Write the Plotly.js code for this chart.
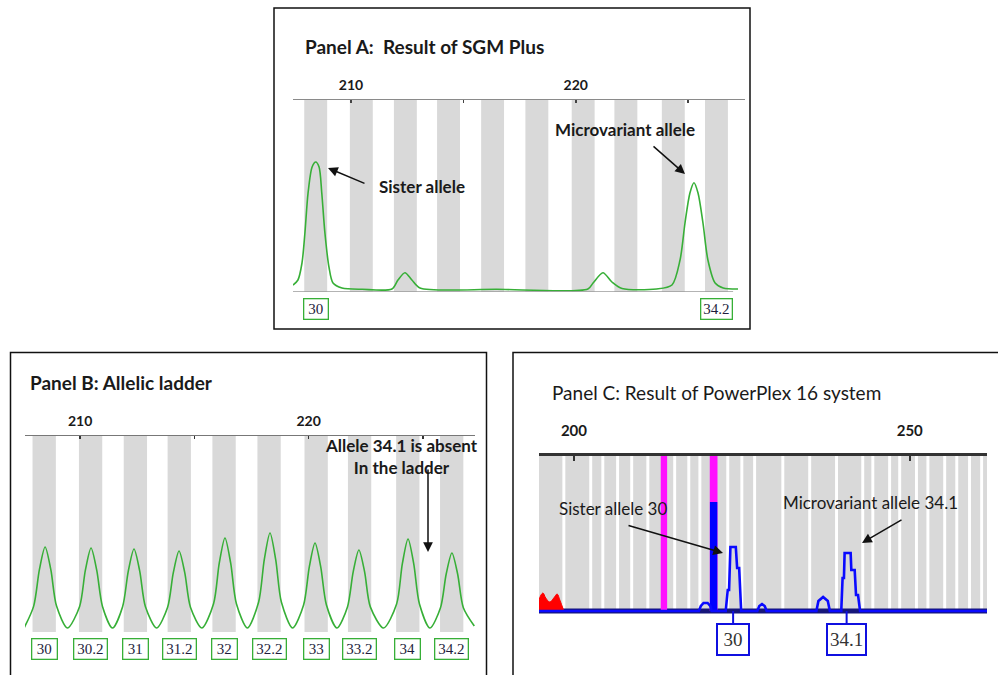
<!DOCTYPE html>
<html><head><meta charset="utf-8">
<script src="https://cdn.plot.ly/plotly-3.0.1.min.js"></script>
<style>html,body{margin:0;padding:0;background:#fff}#chart{width:998px;height:675px}</style>
</head><body><div id="chart"></div>
<script>
// ================= DATA =================
// Allele bins (bp) shared by panels A and B, with their allele names
const binCentersAB = [208.43, 210.46, 212.42, 214.34, 216.30, 218.27, 220.33, 222.23, 224.34, 226.26];
const binLabelsAB  = ['30','30.2','31','31.2','32','32.2','33','33.2','34','34.2'];
const ticksAB      = [210, 215, 220, 225];
const tickTextAB   = ['210', '', '220', ''];

// Panel A: SGM Plus electropherogram (green), size in bp vs signal
const panelA_bp  = [207.42,207.64,207.82,207.95,208.09,208.27,208.43,208.58,208.70,208.84,209.02,209.20,209.60,210.50,
                    211.82,212.09,212.40,212.71,213.07,216.50,220.54,220.77,221.21,221.61,222.06,223.60,
                    224.28,224.64,224.86,225.08,225.26,225.44,225.66,225.88,226.20,226.56,227.22];
const panelA_sig = [70,120,290,590,990,1250,1300,1250,990,590,250,90,40,27,
                    30,120,193,120,40,27,30,90,193,100,35,30,
                    70,320,690,990,1093,990,690,320,90,40,30];
const panelA_callNames = ['30', '34.2'];
const panelA_callPos   = [208.43, 226.26];

// Panel B: allelic ladder (green)
const panelB_bp  = [207.55,
  207.97,208.22,208.47,208.72,208.97,209.45,
  209.98,210.23,210.48,210.73,210.98,211.42,
  211.86,212.11,212.36,212.61,212.86,213.35,
  213.83,214.08,214.33,214.58,214.83,215.33,
  215.84,216.09,216.34,216.59,216.84,217.32,
  217.81,218.06,218.31,218.56,218.81,219.30,
  219.78,220.03,220.28,220.53,220.78,221.24,
  221.70,221.95,222.20,222.45,222.70,223.28,
  223.85,224.10,224.35,224.60,224.85,225.31,
  225.77,226.02,226.27,226.52,226.77,227.25];
const panelB_sig = [40,
  259,623,850,623,259,40,
  256,616,840,616,256,40,
  253,609,830,609,253,40,
  248,594,810,594,248,40,
  283,688,940,688,283,40,
  297,724,990,724,297,40,
  270,652,890,652,270,40,
  251,602,820,602,251,40,
  280,681,930,681,280,40,
  243,580,790,580,243,60];

// Panel C: PowerPlex 16 (blue dye trace, red dye trace)
const panelC_blue_bp  = [194.8,218.6,218.9,219.3,219.9,220.3,220.5,222.6,222.9,223.1,223.3,224.1,224.3,224.6,224.9,
                         227.3,227.6,228.0,228.4,228.7,236.1,236.4,237.1,237.8,238.1,
                         239.8,240.0,240.2,240.3,241.2,241.3,241.8,242.0,242.3,242.6,261.5];
const panelC_blue_sig = [0,0,50,80,80,50,0,0,210,210,640,640,430,430,0,
                         0,50,70,50,0,0,100,140,100,0,
                         0,330,330,580,580,410,410,160,160,0,0];
const panelC_red_bp  = [194.8,195.1,195.4,195.8,196.4,197.0,197.5,197.9,198.5];
const panelC_red_sig = [110,160,180,130,90,130,170,110,0];
const panelC_binGaps = [198.5,202.5,204.3,206.5,208.6,211.0,215.0,217.1,218.75,222.9,225.0,226.9,
                        231.1,235.1,239.1,243.0,244.5,247.0,248.5,251.0,252.7,255.2,257.0,258.9,260.7];
const panelC_magenta_bp  = [213.4, 220.8];
const panelC_magenta_sig = [1550, 1550];
const panelC_offscale_bp  = [220.8];
const panelC_offscale_sig = [1090];
const panelC_callNames = ['30', '34.1'];
const panelC_callPos   = [223.7, 240.6];
const ticksC    = [200, 250];
const tickTextC = ['200', '250'];

// ================= LAYOUT HELPERS =================
const W = 998, H = 675;
const px = x => x / W;
const py = y => 1 - y / H;
const SANS = 'Lato, "Open Sans", sans-serif';
const SERIF = '"Liberation Serif", "DejaVu Serif", serif';
const GREEN = 'rgb(55,175,55)';
const BAND = '#d9d9d9';

const yTopA = 1920, yTopB = 1960;

const traces = [
  {type:'bar', x: binCentersAB, y: binCentersAB.map(() => yTopA), width: 1.02,
   marker:{color: BAND}, xaxis:'x', yaxis:'y', hoverinfo:'skip'},
  {type:'scatter', mode:'lines', x: panelA_bp, y: panelA_sig, line:{color: GREEN, width:1.6, shape:'spline', smoothing:0.8},
   xaxis:'x', yaxis:'y', hoverinfo:'skip'},
  {type:'bar', x: binCentersAB, y: binCentersAB.map(() => yTopB), width: 1.02,
   marker:{color: BAND}, xaxis:'x2', yaxis:'y2', hoverinfo:'skip'},
  {type:'scatter', mode:'lines', x: panelB_bp, y: panelB_sig, line:{color: GREEN, width:1.6, shape:'spline', smoothing:0.8},
   xaxis:'x2', yaxis:'y2', hoverinfo:'skip'},
  {type:'bar', x: panelC_magenta_bp, y: panelC_magenta_sig, width: [0.95, 1.15],
   marker:{color:'#ff10ff'}, xaxis:'x3', yaxis:'y3', hoverinfo:'skip'},
  {type:'bar', x: panelC_offscale_bp, y: panelC_offscale_sig, width: [1.1],
   marker:{color:'#0000ff'}, xaxis:'x3', yaxis:'y3', hoverinfo:'skip'},
  {type:'scatter', mode:'lines', x: panelC_red_bp, y: panelC_red_sig, fill:'tozeroy', fillcolor:'#ff0000',
   line:{color:'#ff0000', width:1, shape:'spline'}, xaxis:'x3', yaxis:'y3', hoverinfo:'skip'},
  {type:'scatter', mode:'lines', x: panelC_blue_bp, y: panelC_blue_sig, line:{color:'#0a0aff', width:2.6},
   xaxis:'x3', yaxis:'y3', hoverinfo:'skip'}
];

const tickFont = {family: SANS, size: 14, color: '#1a1a1a', weight: 'bold'};
const layout = {
  width: W, height: H, margin:{l:0,r:0,t:0,b:0}, paper_bgcolor:'#fff', plot_bgcolor:'rgba(0,0,0,0)',
  showlegend:false, barmode:'overlay',
  xaxis:{domain:[px(293), px(745)], range:[207.42, 227.53], side:'top', anchor:'y', showline:true, linecolor:'#8a8a8a',
         linewidth:1.5, ticks:'inside', ticklen:3, tickwidth:1.5, tickcolor:'#444', tickvals: ticksAB, ticktext: tickTextAB,
         tickfont: tickFont, showgrid:false, zeroline:false, ticklabelstandoff:3},
  yaxis:{domain:[py(292), py(100)], range:[0, yTopA], visible:false},
  xaxis2:{domain:[px(25), px(475)], range:[207.59, 227.28], side:'top', anchor:'y2', showline:true, linecolor:'#777',
         linewidth:1.5, ticks:'inside', ticklen:3, tickwidth:1.5, tickcolor:'#333', tickvals: ticksAB, ticktext: tickTextAB,
         tickfont: tickFont, showgrid:false, zeroline:false, ticklabelstandoff:3},
  yaxis2:{domain:[py(632), py(436)], range:[0, yTopB], visible:false},
  xaxis3:{domain:[px(539), px(987)], range:[194.8, 261.5], side:'top', anchor:'y3', showline:true, linecolor:'#333',
         linewidth:3, ticks:'inside', ticklen:5, tickwidth:2, tickcolor:'#333', tickvals: ticksC, ticktext: tickTextC,
         tickfont: {family: SANS, size: 15, color:'#1a1a1a', weight:'bold'}, showgrid:false, zeroline:false, ticklabelstandoff:11},
  yaxis3:{domain:[py(614), py(456)], range:[-30, 1550], visible:false},
  shapes: [],
  annotations: []
};

// Panel frames
const frame = (x0,x1,y0,y1) => ({type:'rect', xref:'paper', yref:'paper', x0:px(x0), x1:px(x1), y0:py(y1), y1:py(y0),
  line:{color:'#111', width:1.5}, fillcolor:'rgba(0,0,0,0)'});
layout.shapes.push(frame(274, 750, 8, 329));
layout.shapes.push(frame(10.5, 486.5, 352.5, 680));
layout.shapes.push(frame(513, 1005, 352.5, 680));

// Panel A baseline
layout.shapes.push({type:'line', xref:'x', yref:'y', x0:207.42, x1:227.0, y0:0, y1:0, line:{color:'#9a9a9a', width:1.5}});

// Panel C background and bin gaps
layout.shapes.push({type:'rect', xref:'x3 domain', yref:'y3 domain', x0:0, x1:1, y0:0.02, y1:1, fillcolor: BAND,
  line:{width:0}, layer:'below'});
panelC_binGaps.forEach(g => layout.shapes.push({type:'rect', xref:'x3', yref:'y3 domain', x0:g-0.22, x1:g+0.22, y0:0.02, y1:1,
  fillcolor:'#ffffff', line:{width:0}, layer:'below'}));
layout.shapes.push({type:'line', xref:'x3', yref:'y3', x0:194.8, x1:261.5, y0:0, y1:0, line:{color:'#16167a', width:5}, layer:'below'});
// connectors from baseline to allele-call boxes
panelC_callPos.forEach(p => layout.shapes.push({type:'line', xref:'x3', yref:'paper', x0:p, x1:p, y0:py(611), y1:py(623),
  line:{color:'#1010e0', width:2}}));

// Text helpers
const txt = (text, x, y, size, bold, anchor) => ({xref:'paper', yref:'paper', x:px(x), y:py(y), text, showarrow:false,
  xanchor: anchor || 'center', yanchor:'middle', font:{family:SANS, size, color:'#1a1a1a', weight: bold ? 'bold' : 'normal'}});
const arrow = (hx, hy, tx, ty) => ({xref:'paper', yref:'paper', x:px(hx), y:py(hy), ax: tx-hx, ay: ty-hy, text:'',
  showarrow:true, arrowhead:2, arrowsize:1.3, arrowwidth:1.5, arrowcolor:'#111', standoff:0, startstandoff:0});

const absentNote = txt('Allele 34.1 is absent<br>In the ladder', 401, 457, 17, true);
absentNote.align = 'center';

layout.annotations.push(
  txt('Panel A:  Result of SGM Plus', 303, 46, 19, true, 'left'),
  txt('Panel B: Allelic ladder', 28, 383, 19, true, 'left'),
  txt('Panel C: Result of PowerPlex 16 system', 550, 392, 19, false, 'left'),
  txt('Sister allele', 422, 187, 17, true),
  txt('Microvariant allele', 625, 129, 17, true),
  absentNote,
  txt('Sister allele 30', 613, 508, 17, false),
  txt('Microvariant allele 34.1', 870, 502, 17, false),
  arrow(328, 168, 366, 184),
  arrow(685, 174, 652, 145),
  arrow(428, 552, 428, 468),
  arrow(723, 553, 627, 525),
  arrow(862, 543, 903, 519)
);

// Allele call boxes
const callBox = (xref, x, yc, text, w, h, color, bw, font) => ({xref, yref:'paper', x, y:py(yc), text, showarrow:false,
  xanchor:'center', yanchor:'middle', width:w, height:h, bordercolor:color, borderwidth:bw, borderpad:0,
  bgcolor:'#fff', font});
const fontAB = {family:SERIF, size:15, color:'#1e1e3c'};
panelA_callNames.forEach((t,i) => layout.annotations.push(
  callBox('x', panelA_callPos[i], 308.5, t, t.length > 2 ? 30 : 23, 19, GREEN, 1.3, fontAB)));
binLabelsAB.forEach((t,i) => layout.annotations.push(
  callBox('x2', binCentersAB[i], 649, t, t.length > 2 ? 32 : 24, 19, GREEN, 1.3, fontAB)));
panelC_callNames.forEach((t,i) => layout.annotations.push(
  callBox('x3', panelC_callPos[i], 639.5, t, t.length > 2 ? 37 : 30, 29, '#1010e0', 2,
          {family:SERIF, size:19, color:'#333'})));

Plotly.newPlot('chart', traces, layout, {staticPlot:true, displayModeBar:false});
</script></body></html>
